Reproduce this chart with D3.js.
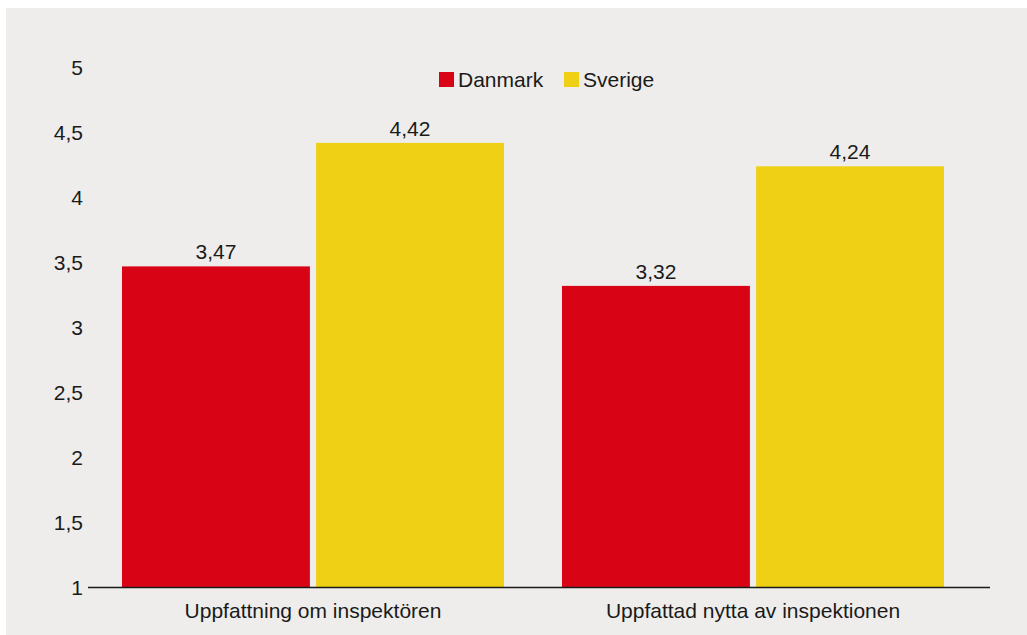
<!DOCTYPE html>
<html>
<head>
<meta charset="utf-8">
<script src="https://cdn.jsdelivr.net/npm/d3@7"></script>
<style>
body { margin: 0; background: #fff; }
svg text { font-family: "Liberation Sans", Arial, Helvetica, sans-serif; fill: #1a1a1a; }
</style>
</head>
<body>
<svg id="main" width="1027" height="635"></svg>
<script>
// data
var categories = ["Uppfattning om inspektören", "Uppfattad nytta av inspektionen"];
var seriesNames = ["Danmark", "Sverige"];
var danmark = [3.47, 3.32];
var sverige = [4.42, 4.24];
var yTicks = [1, 1.5, 2, 2.5, 3, 3.5, 4, 4.5, 5];

var colors = ["#d80416", "#f0d014"];
var fontSize = 21;

var svg = d3.select("svg#main");

// grey panel behind the chart
svg.append("rect")
    .attr("x", 6).attr("y", 8)
    .attr("width", 1021).attr("height", 627)
    .attr("fill", "#eeedeb");

var y = d3.scaleLinear().domain([1, 5]).range([587.5, 67.5]);

var x0 = d3.scaleBand().domain(categories).range([93, 973]).paddingInner(0).paddingOuter(0);
var x1 = d3.scaleBand().domain(seriesNames).range([29, 411]).paddingInner(0.032);

var rows = categories.map(function(c, i) {
    return { cat: c, values: [danmark[i], sverige[i]] };
});

// y labels, no tick marks
var yAxis = d3.axisLeft(y).tickValues(yTicks).tickSize(0).tickPadding(0)
    .tickFormat(function(d) { return String(d).replace(".", ","); });

var gy = svg.append("g").attr("transform", "translate(83,0)").call(yAxis);
gy.select(".domain").remove();
gy.selectAll("text").attr("font-size", fontSize).attr("fill", "#1a1a1a")
    .style("font-family", "'Liberation Sans', Arial, sans-serif");

// bars
var groups = svg.selectAll("g.grp")
    .data(rows)
    .enter()
    .append("g")
    .attr("class", "grp")
    .attr("transform", function(d) { return "translate(" + x0(d.cat) + ",0)"; });

groups.selectAll("rect")
    .data(function(d) { return d.values.map(function(v, j) { return { s: seriesNames[j], v: v, j: j }; }); })
    .enter()
    .append("rect")
    .attr("x", function(d) { return x1(d.s); })
    .attr("width", x1.bandwidth())
    .attr("y", function(d) { return y(d.v); })
    .attr("height", function(d) { return y(1) - y(d.v); })
    .attr("fill", function(d) { return colors[d.j]; });

groups.selectAll("text.val")
    .data(function(d) { return d.values.map(function(v, j) { return { s: seriesNames[j], v: v }; }); })
    .enter()
    .append("text")
    .attr("class", "val")
    .attr("x", function(d) { return x1(d.s) + x1.bandwidth() / 2; })
    .attr("y", function(d) { return y(d.v) - 7; })
    .attr("text-anchor", "middle")
    .attr("font-size", fontSize)
    .text(function(d) { return d3.format(".2f")(d.v).replace(".", ","); });

// x axis
var xAxis = d3.axisBottom(x0).tickSize(0).tickPadding(16);
var gx = svg.append("g").attr("transform", "translate(0," + y(1) + ")").call(xAxis);
gx.select(".domain").remove();
gx.selectAll("text").attr("font-size", fontSize).attr("fill", "#1a1a1a")
    .style("font-family", "'Liberation Sans', Arial, sans-serif");

svg.append("line")
    .attr("x1", 88).attr("x2", 990)
    .attr("y1", y(1)).attr("y2", y(1))
    .attr("stroke", "#1a1a1a").attr("stroke-width", 1.5);

// legend
var legendX = [439, 564];
var legend = svg.selectAll("g.legend")
    .data(seriesNames)
    .enter()
    .append("g")
    .attr("class", "legend")
    .attr("transform", function(d, i) { return "translate(" + legendX[i] + ",72)"; });

legend.append("rect")
    .attr("width", 15).attr("height", 15)
    .attr("fill", function(d, i) { return colors[i]; });

legend.append("text")
    .attr("x", 19).attr("y", 15)
    .attr("font-size", fontSize)
    .text(function(d) { return d; });
</script>
</body>
</html>
